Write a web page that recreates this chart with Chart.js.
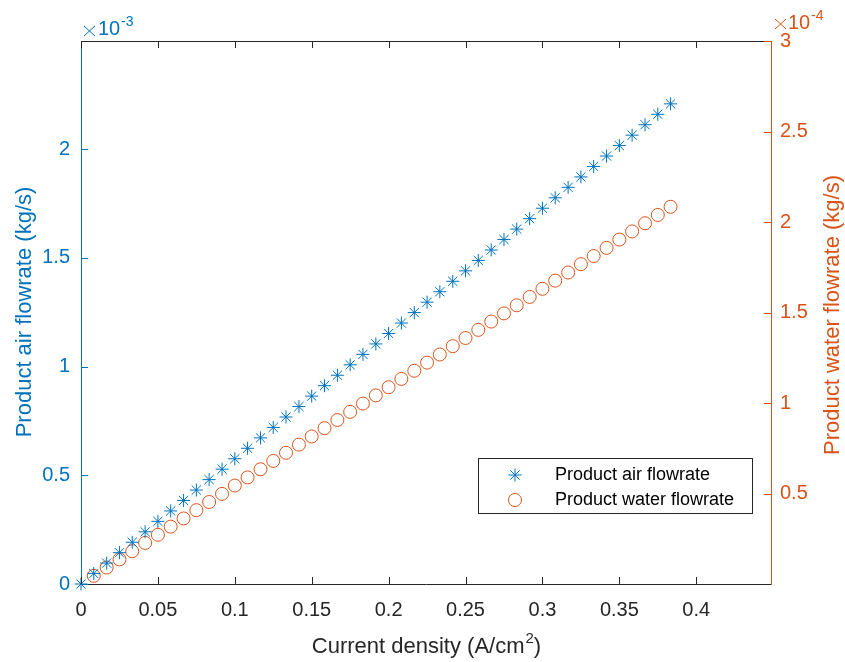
<!DOCTYPE html>
<html>
<head>
<meta charset="utf-8">
<script src="https://cdn.jsdelivr.net/npm/chart.js@4/dist/chart.umd.min.js"></script>
<style>
  html, body { margin: 0; padding: 0; background: #fff; }
  #wrap { width: 845px; height: 662px; }
</style>
</head>
<body>
<div id="wrap"><canvas id="chart" width="845" height="662"></canvas></div>
<script>
// current density, A/cm2
const currentDensity = [
  0, 0.0083, 0.0167, 0.025, 0.0333, 0.0417, 0.05, 0.0583, 0.0667, 0.075,
  0.0833, 0.0917, 0.1, 0.1083, 0.1167, 0.125, 0.1333, 0.1417, 0.15, 0.1583,
  0.1667, 0.175, 0.1833, 0.1917, 0.2, 0.2083, 0.2167, 0.225, 0.2333, 0.2417,
  0.25, 0.2583, 0.2667, 0.275, 0.2833, 0.2917, 0.3, 0.3083, 0.3167, 0.325,
  0.3333, 0.3417, 0.35, 0.3583, 0.3667, 0.375, 0.3833,
];
// product air flowrate, x10^-3 kg/s
const airFlow = [
  0, 0.048, 0.096, 0.144, 0.192, 0.24, 0.288, 0.336, 0.384, 0.432,
  0.48, 0.528, 0.576, 0.624, 0.672, 0.72, 0.768, 0.816, 0.864, 0.912,
  0.96, 1.008, 1.056, 1.104, 1.152, 1.2, 1.248, 1.296, 1.344, 1.392,
  1.44, 1.488, 1.536, 1.584, 1.632, 1.68, 1.728, 1.776, 1.824, 1.872,
  1.92, 1.968, 2.016, 2.064, 2.112, 2.16, 2.208,
];
// product water flowrate, x10^-4 kg/s
const waterFlow = [
  null, 0.045, 0.091, 0.136, 0.181, 0.227, 0.272, 0.317, 0.362, 0.408,
  0.453, 0.498, 0.544, 0.589, 0.634, 0.68, 0.725, 0.77, 0.815, 0.861,
  0.906, 0.951, 0.997, 1.042, 1.087, 1.133, 1.178, 1.223, 1.268, 1.314,
  1.359, 1.404, 1.45, 1.495, 1.54, 1.586, 1.631, 1.676, 1.721, 1.767,
  1.812, 1.857, 1.903, 1.948, 1.993, 2.039, 2.084,
];
const xTicks = [0, 0.05, 0.1, 0.15, 0.2, 0.25, 0.3, 0.35, 0.4];
const airTicks = [0, 0.5, 1, 1.5, 2];
const waterTicks = [0.5, 1, 1.5, 2, 2.5, 3];

const BLUE = "#0072BD";
const ORANGE = "#D95319";
const DARK = "#262626";
const FONT = "'Liberation Sans', Arial, sans-serif";

const points = (ys) =>
  currentDensity
    .map((x, i) => ({ x: x, y: ys[i] }))
    .filter((p) => p.y !== null);

const fmt = (v) => String(Number(v.toFixed(3)));

const drawStar = (ctx, x, y, r) => {
  ctx.beginPath();
  for (let k = 0; k < 4; k++) {
    const a = (k * Math.PI) / 4;
    ctx.moveTo(x - Math.cos(a) * r, y - Math.sin(a) * r);
    ctx.lineTo(x + Math.cos(a) * r, y + Math.sin(a) * r);
  }
  ctx.stroke();
};

// thin "x" multiplication sign like MATLAB's exponent label
const drawTimes = (ctx, x0, y0, x1, y1) => {
  ctx.beginPath();
  ctx.moveTo(x0, y0);
  ctx.lineTo(x1, y1);
  ctx.moveTo(x0, y1);
  ctx.lineTo(x1, y0);
  ctx.stroke();
};

const matlabAxes = {
  id: "matlabAxes",
  afterDraw(chart) {
    const { ctx, chartArea: a, scales } = chart;
    const T = 7;
    const px = (v) => Math.round(v) + 0.5;
    ctx.save();
    ctx.lineWidth = 1;

    // top box line + ticks
    ctx.strokeStyle = DARK;
    ctx.beginPath();
    ctx.moveTo(a.left, px(a.top));
    ctx.lineTo(a.right, px(a.top));
    xTicks.forEach((v) => {
      const x = px(scales.x.getPixelForValue(v));
      ctx.moveTo(x, a.bottom);
      ctx.lineTo(x, a.bottom - T);
      ctx.moveTo(x, a.top);
      ctx.lineTo(x, a.top + T);
    });
    ctx.stroke();

    ctx.strokeStyle = BLUE;
    ctx.beginPath();
    airTicks.forEach((v) => {
      const y = px(scales.y.getPixelForValue(v));
      ctx.moveTo(a.left, y);
      ctx.lineTo(a.left + T, y);
    });
    ctx.stroke();

    ctx.strokeStyle = ORANGE;
    ctx.beginPath();
    waterTicks.forEach((v) => {
      const y = px(scales.y2.getPixelForValue(v));
      ctx.moveTo(a.right, y);
      ctx.lineTo(a.right - T, y);
    });
    ctx.stroke();

    // exponent labels
    ctx.textBaseline = "alphabetic";
    ctx.textAlign = "left";
    ctx.strokeStyle = BLUE;
    ctx.fillStyle = BLUE;
    drawTimes(ctx, 84, 26, 95, 36);
    ctx.font = `20px ${FONT}`;
    ctx.fillText("10", 98, 35);
    ctx.font = `14px ${FONT}`;
    ctx.fillText("-3", 121, 26);
    ctx.strokeStyle = ORANGE;
    ctx.fillStyle = ORANGE;
    drawTimes(ctx, 775, 19, 786, 29);
    ctx.font = `20px ${FONT}`;
    ctx.fillText("10", 788, 29);
    ctx.font = `14px ${FONT}`;
    ctx.fillText("-4", 811, 20);

    // x title with superscript
    ctx.fillStyle = DARK;
    const big = `22px ${FONT}`, small = `15px ${FONT}`;
    const p1 = "Current density (A/cm", p2 = "2", p3 = ")";
    ctx.font = big;
    const w1 = ctx.measureText(p1).width, w3 = ctx.measureText(p3).width;
    ctx.font = small;
    const w2 = ctx.measureText(p2).width;
    let tx = 426 - (w1 + w2 + w3) / 2;
    ctx.font = big;
    ctx.fillText(p1, tx, 653);
    ctx.font = small;
    ctx.fillText(p2, tx + w1 + 1, 643);
    ctx.font = big;
    ctx.fillText(p3, tx + w1 + w2 + 1, 653);

    // y titles
    ctx.textAlign = "center";
    ctx.textBaseline = "middle";
    ctx.font = big;
    [[25, 312, BLUE, "Product air flowrate (kg/s)"],
     [833, 315, ORANGE, "Product water flowrate (kg/s)"]].forEach(([x, y, c, t]) => {
      ctx.save();
      ctx.translate(x, y);
      ctx.rotate(-Math.PI / 2);
      ctx.fillStyle = c;
      ctx.fillText(t, 0, 0);
      ctx.restore();
    });

    // legend
    ctx.fillStyle = "#fff";
    ctx.fillRect(478, 458, 274, 55);
    ctx.strokeStyle = DARK;
    ctx.strokeRect(478.5, 458.5, 274, 55);
    ctx.strokeStyle = BLUE;
    drawStar(ctx, 515, 475, 6.5);
    ctx.strokeStyle = ORANGE;
    ctx.beginPath();
    ctx.arc(515, 500, 6.5, 0, Math.PI * 2);
    ctx.stroke();
    ctx.fillStyle = "#000";
    ctx.textAlign = "left";
    ctx.font = `18px ${FONT}`;
    ctx.fillText("Product air flowrate", 555, 475);
    ctx.fillText("Product water flowrate", 555, 500);
    ctx.restore();
  },
};

const init = function () {
  new Chart(document.getElementById("chart"), {
    type: "scatter",
    data: {
      datasets: [
        {
          label: "Product air flowrate",
          data: points(airFlow),
          yAxisID: "y",
          pointStyle: "star",
          pointRadius: 6.5,
          pointHoverRadius: 6.5,
          borderWidth: 1,
          borderColor: BLUE,
          backgroundColor: BLUE,
          clip: false,
        },
        {
          label: "Product water flowrate",
          data: points(waterFlow),
          yAxisID: "y2",
          pointStyle: "circle",
          pointRadius: 6.5,
          pointHoverRadius: 6.5,
          borderWidth: 1,
          borderColor: ORANGE,
          backgroundColor: "rgba(0,0,0,0)",
          clip: false,
        },
      ],
    },
    options: {
      responsive: false,
      animation: false,
      events: [],
      layout: { padding: { top: 41, left: 0, right: 0, bottom: 0 } },
      plugins: { legend: { display: false }, tooltip: { enabled: false } },
      scales: {
        x: {
          type: "linear",
          position: "bottom",
          min: 0,
          max: 0.4486,
          afterBuildTicks: (s) => { s.ticks = xTicks.map((v) => ({ value: v })); },
          afterFit: (s) => { s.height = 78; },
          grid: { display: false, drawTicks: false },
          border: { display: true, color: DARK, width: 1 },
          ticks: { color: DARK, padding: 14, font: { family: FONT, size: 20 }, callback: fmt, maxRotation: 0 },
        },
        y: {
          type: "linear",
          position: "left",
          min: 0,
          max: 2.497,
          afterBuildTicks: (s) => { s.ticks = airTicks.map((v) => ({ value: v })); },
          afterFit: (s) => { s.width = 81; },
          grid: { display: false, drawTicks: false },
          border: { display: true, color: BLUE, width: 1 },
          ticks: { color: BLUE, padding: 11, font: { family: FONT, size: 20 }, callback: fmt },
        },
        y2: {
          type: "linear",
          position: "right",
          min: 0,
          max: 3,
          afterBuildTicks: (s) => { s.ticks = waterTicks.map((v) => ({ value: v })); },
          afterFit: (s) => { s.width = 74; },
          grid: { display: false, drawTicks: false },
          border: { display: true, color: ORANGE, width: 1 },
          ticks: { color: ORANGE, padding: 9, font: { family: FONT, size: 20 }, callback: fmt },
        },
      },
    },
    plugins: [matlabAxes],
  });
};

if (document.readyState !== "loading") init();
else document.addEventListener("DOMContentLoaded", init);
</script>
</body>
</html>
